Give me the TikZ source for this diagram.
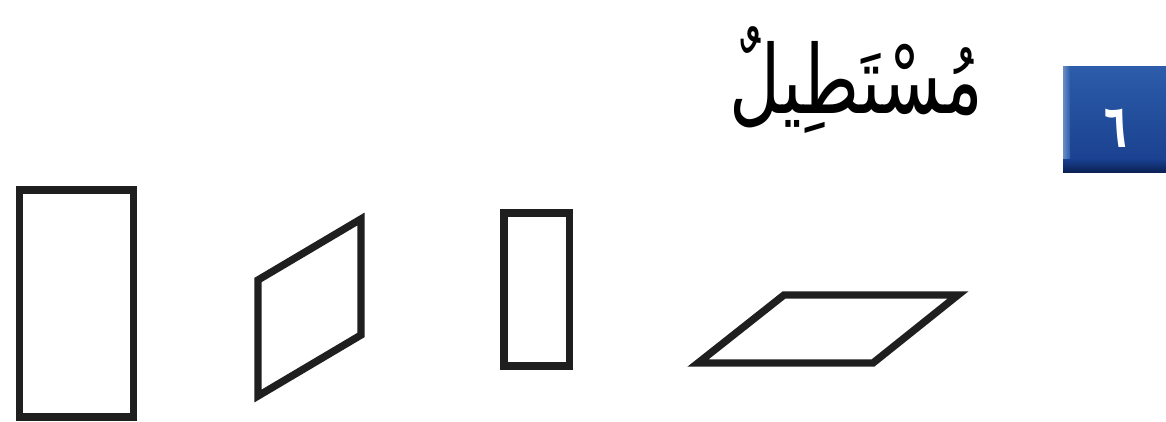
\documentclass[tikz,border=0pt]{standalone}
\usepackage{fontspec}
\newfontfamily\arabicfont[Script=Arabic]{DejaVu Sans}
\TeXXeTstate=1
\usetikzlibrary{positioning}

\definecolor{badgetop}{RGB}{44,92,170}
\definecolor{badgebot}{RGB}{24,62,140}
\definecolor{badgeedge}{RGB}{10,30,80}

\tikzset{
	shapeline/.style={line width=4.2pt, line join=miter, draw=black!88},
	titletext/.style={font=\arabicfont\fontsize{40}{48}\selectfont, inner sep=0pt},
	numtext/.style={font=\arabicfont\bfseries\fontsize{30}{34}\selectfont, text=white, inner sep=0pt}
}

\begin{document}
\begin{tikzpicture}[x=0.02cm,y=-0.02cm]
	\useasboundingbox (0,0) rectangle (1166,422);
	
	% tall rectangle
	\draw[shapeline] (19.5,190) rectangle (133.5,417);
	
	% upright parallelogram
	\draw[shapeline] (258,280) -- (361,219) -- (361,335) -- (258,396) -- cycle;
	
	% small rectangle
	\draw[shapeline] (504,213) rectangle (569.5,366);
	
	% flat parallelogram
	\draw[shapeline] (698,363) -- (873,363) -- (958,295) -- (784,295) -- cycle;
	
	% number badge
	\shade[top color=badgetop, bottom color=badgebot] (1063,67) rectangle (1166,173);
	\shade[left color=badgetop!70!white, right color=badgetop] (1063,67) rectangle (1070,168);
	\shade[top color=badgebot, bottom color=badgeedge] (1063,160) rectangle (1166,173);
	\node[numtext] (num) at (1116,128) {\scalebox{0.7}[1.15]{\beginR ٦\endR}};
	
	% title word
	\node[titletext, anchor=base] (title) at (856,114) {\scalebox{1}[1.35]{\beginR مُسْتَطِيلٌ\endR}};
\end{tikzpicture}
\end{document}
